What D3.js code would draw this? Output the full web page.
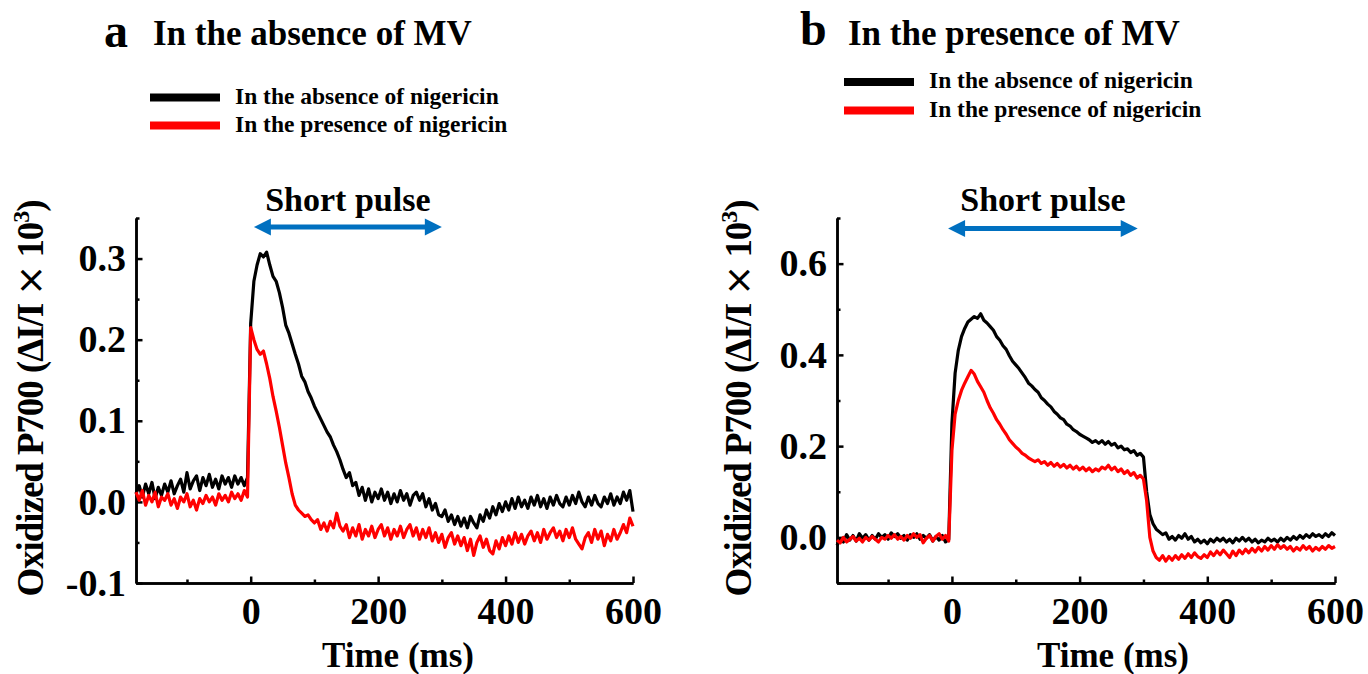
<!DOCTYPE html>
<html>
<head>
<meta charset="utf-8">
<title>Oxidized P700</title>
<script src="https://d3js.org/d3.v7.min.js"></script>
<style>
  body { margin: 0; background: #fff; }
  svg text { font-family: "Liberation Serif", "Times New Roman", serif; font-weight: bold; fill: #000; }
  .axis path, .axis line { stroke: #000; stroke-width: 2.5; }
  .trace { fill: none; stroke-width: 3.2; stroke-linejoin: round; }
</style>
</head>
<body>
<svg id="chart" width="1368" height="674"></svg>
<script>
// sampling grid of the traces (ms)
var times = d3.range(-180, 601, 5);

// panel a, no MV
var aBlack = [
  0.010, 0.020, 0.006, 0.022, 0.010, 0.024, 0.004, 0.018, 0.008, 0.022,
  0.012, 0.026, 0.010, 0.020, 0.028, 0.012, 0.036, 0.016, 0.026, 0.032,
  0.014, 0.030, 0.020, 0.034, 0.018, 0.028, 0.016, 0.032, 0.022, 0.030,
  0.018, 0.032, 0.022, 0.030, 0.020, 0.030,
  0.220, 0.272, 0.292, 0.306, 0.302, 0.308, 0.292, 0.278, 0.272, 0.258,
  0.240, 0.218, 0.208, 0.195, 0.182, 0.170, 0.155, 0.148, 0.136, 0.128,
  0.118, 0.110, 0.102, 0.094, 0.086, 0.080, 0.070, 0.062, 0.052, 0.040,
  0.030, 0.036, 0.020, 0.024, 0.008, 0.018, 0.002, 0.016, 0.000, 0.012,
  0.004, 0.016, 0.002, 0.012, -0.002, 0.010, 0.000, 0.014, 0.002, 0.010,
  -0.004, 0.008, 0.012, 0.002, 0.010, -0.006, 0.004, -0.010, -0.002, -0.016,
  -0.018, -0.010, -0.024, -0.016, -0.028, -0.018, -0.030, -0.020, -0.032, -0.018,
  -0.026, -0.032, -0.016, -0.024, -0.010, -0.020, -0.006, -0.016, -0.002, -0.012,
  0.000, -0.010, 0.004, -0.008, 0.006, -0.006, 0.002, -0.008, 0.006, -0.004,
  0.008, -0.006, 0.004, -0.008, 0.006, -0.004, 0.008, -0.002, -0.006, 0.006,
  -0.004, 0.008, -0.002, 0.012, 0.000, -0.006, 0.006, -0.004, 0.008, -0.002,
  -0.006, 0.006, -0.002, 0.010, -0.004, 0.006, -0.002, 0.012, 0.002, 0.014,
  -0.012
];
var aRed = [
  0.012, 0.002, 0.014, -0.004, 0.008, 0.000, 0.012, -0.006, 0.006, 0.002,
  0.010, -0.004, 0.004, -0.008, 0.006, 0.000, 0.010, -0.006, 0.002, -0.010,
  0.004, -0.002, 0.008, 0.000, 0.006, -0.004, 0.010, 0.002, 0.008, 0.000,
  0.012, 0.004, 0.010, 0.002, 0.014, 0.006,
  0.215, 0.200, 0.188, 0.182, 0.186, 0.170, 0.152, 0.130, 0.112, 0.092,
  0.070, 0.048, 0.030, 0.010, -0.004, -0.010, -0.014, -0.018, -0.016, -0.022,
  -0.026, -0.022, -0.034, -0.026, -0.036, -0.024, -0.032, -0.014, -0.030, -0.036,
  -0.028, -0.044, -0.032, -0.042, -0.028, -0.046, -0.034, -0.042, -0.030, -0.044,
  -0.034, -0.028, -0.042, -0.032, -0.046, -0.034, -0.042, -0.030, -0.044, -0.034,
  -0.028, -0.042, -0.032, -0.046, -0.034, -0.044, -0.032, -0.048, -0.038, -0.050,
  -0.040, -0.056, -0.044, -0.038, -0.052, -0.042, -0.054, -0.044, -0.060, -0.046,
  -0.066, -0.050, -0.042, -0.056, -0.046, -0.060, -0.064, -0.048, -0.058, -0.044,
  -0.054, -0.042, -0.052, -0.038, -0.050, -0.040, -0.052, -0.042, -0.036, -0.048,
  -0.038, -0.050, -0.034, -0.046, -0.038, -0.032, -0.044, -0.036, -0.048, -0.034,
  -0.044, -0.032, -0.046, -0.052, -0.058, -0.044, -0.038, -0.050, -0.034, -0.046,
  -0.036, -0.054, -0.040, -0.048, -0.034, -0.046, -0.038, -0.028, -0.038, -0.020,
  -0.030
];

// panel b, with MV
var bBlack = [
  -0.018, -0.004, -0.010, 0.006, -0.006, 0.004, -0.008, 0.008, -0.002, 0.006,
  -0.006, 0.004, -0.004, 0.008, 0.000, 0.006, -0.004, 0.010, 0.002, 0.008,
  -0.002, 0.004, -0.006, 0.006, 0.000, 0.008, -0.004, 0.004, -0.002, 0.006,
  -0.008, 0.002, -0.006, 0.004, -0.010, -0.004,
  0.250, 0.360, 0.410, 0.440, 0.458, 0.472, 0.478, 0.484, 0.480, 0.490,
  0.476, 0.470, 0.462, 0.454, 0.440, 0.432, 0.420, 0.412, 0.398, 0.386,
  0.378, 0.370, 0.360, 0.350, 0.338, 0.332, 0.324, 0.318, 0.306, 0.300,
  0.292, 0.286, 0.276, 0.270, 0.262, 0.258, 0.248, 0.244, 0.236, 0.232,
  0.226, 0.222, 0.218, 0.214, 0.208, 0.212, 0.206, 0.212, 0.204, 0.210,
  0.202, 0.206, 0.196, 0.200, 0.192, 0.194, 0.186, 0.190, 0.180, 0.184,
  0.176, 0.100, 0.050, 0.030, 0.018, 0.012, 0.006, 0.010, -0.004, 0.002,
  -0.006, 0.004, -0.002, 0.008, -0.004, 0.002, -0.010, -0.004, -0.012, -0.006,
  -0.014, -0.004, -0.010, -0.002, -0.008, -0.002, -0.010, -0.004, -0.012, -0.002,
  -0.008, 0.000, -0.008, -0.002, -0.010, -0.004, -0.012, -0.006, -0.010, -0.002,
  -0.008, -0.004, -0.010, -0.002, -0.008, 0.000, -0.006, 0.002, -0.004, 0.004,
  -0.002, 0.006, 0.000, 0.008, 0.002, 0.006, 0.000, 0.008, 0.002, 0.010,
  0.004
];
var bRed = [
  -0.006, -0.012, 0.000, -0.010, -0.004, 0.002, -0.008, -0.002, -0.010, 0.000,
  -0.006, 0.002, -0.004, -0.010, 0.000, -0.004, 0.004, -0.002, 0.006, -0.004,
  0.002, -0.006, 0.004, -0.002, 0.008, 0.000, 0.006, -0.012, -0.002, 0.004,
  -0.008, 0.002, 0.008, -0.004, 0.004, -0.008,
  0.190, 0.270, 0.300, 0.322, 0.338, 0.352, 0.366, 0.358, 0.342, 0.330,
  0.318, 0.300, 0.284, 0.272, 0.258, 0.248, 0.236, 0.226, 0.214, 0.206,
  0.198, 0.192, 0.184, 0.180, 0.174, 0.170, 0.166, 0.170, 0.162, 0.166,
  0.158, 0.164, 0.156, 0.162, 0.154, 0.160, 0.152, 0.158, 0.150, 0.156,
  0.148, 0.154, 0.146, 0.152, 0.144, 0.150, 0.146, 0.154, 0.150, 0.158,
  0.148, 0.154, 0.144, 0.150, 0.140, 0.146, 0.136, 0.142, 0.130, 0.136,
  0.128, 0.080, 0.000, -0.030, -0.044, -0.050, -0.040, -0.052, -0.042, -0.050,
  -0.040, -0.048, -0.038, -0.046, -0.036, -0.044, -0.034, -0.042, -0.046, -0.038,
  -0.044, -0.032, -0.040, -0.030, -0.038, -0.028, -0.036, -0.044, -0.030, -0.040,
  -0.028, -0.036, -0.026, -0.034, -0.024, -0.032, -0.022, -0.030, -0.020, -0.028,
  -0.018, -0.026, -0.016, -0.024, -0.018, -0.026, -0.020, -0.030, -0.022, -0.028,
  -0.018, -0.026, -0.020, -0.030, -0.022, -0.028, -0.020, -0.026, -0.018, -0.024,
  -0.020
];

var xMajor = [0, 200, 400, 600];
var xMinor = [-100, 100, 300, 500];
var legendLabels = ["In the absence of nigericin", "In the presence of nigericin"];
var colors = ["#000000", "#ff0000"];

var panels = [
  { letter: "a", title: "In the absence of MV", black: aBlack, red: aRed,
    yDomain: [-0.1, 0.35], yMajor: [-0.1, 0, 0.1, 0.2, 0.3], yMinor: [-0.05, 0.05, 0.15, 0.25, 0.35],
    pulse: [5, 300],
    x0: 136, x1: 633, letterX: 104, letterY: 47, titleX: 153, titleY: 45,
    legX: 150, legY: 97.5, legGap: 28, legTextX: 235,
    arrowY: 227, ylabX: 43, xlabX: 398 },
  { letter: "b", title: "In the presence of MV", black: bBlack, red: bRed,
    yDomain: [-0.1, 0.7], yMajor: [0, 0.2, 0.4, 0.6], yMinor: [-0.1, 0.1, 0.3, 0.5, 0.7],
    pulse: [-6, 291],
    x0: 837, x1: 1335, letterX: 800, letterY: 45, titleX: 848, titleY: 45,
    legX: 844, legY: 82, legGap: 28.5, legTextX: 929,
    arrowY: 228.5, ylabX: 751, xlabX: 1113 }
];

var svg = d3.select("#chart");
var yTop = 218, yBot = 583;

panels.forEach(function (p) {
  var x = d3.scaleLinear().domain([-180, 600]).range([p.x0, p.x1]);
  var y = d3.scaleLinear().domain(p.yDomain).range([yBot, yTop]);
  var g = svg.append("g");

  // header
  g.append("text").attr("x", p.letterX).attr("y", p.letterY)
    .style("font-size", "48px").text(p.letter);
  g.append("text").attr("x", p.titleX).attr("y", p.titleY)
    .style("font-size", "35px").text(p.title);

  // legend
  legendLabels.forEach(function (lab, i) {
    var ly = p.legY + i * p.legGap;
    g.append("line").attr("x1", p.legX).attr("x2", p.legX + 70)
      .attr("y1", ly).attr("y2", ly)
      .attr("stroke", colors[i]).attr("stroke-width", 8);
    g.append("text").attr("x", p.legTextX).attr("y", ly + 6)
      .style("font-size", "23.5px").text(lab);
  });

  // minor ticks
  g.append("g").attr("class", "axis").attr("transform", "translate(0," + yBot + ")")
    .call(d3.axisBottom(x).tickValues(xMinor).tickSizeInner(-3.5).tickSizeOuter(0).tickFormat(""));
  g.append("g").attr("class", "axis").attr("transform", "translate(" + p.x0 + ",0)")
    .call(d3.axisLeft(y).tickValues(p.yMinor).tickSizeInner(-3.5).tickSizeOuter(0).tickFormat(""));

  // major ticks + labels
  var xa = g.append("g").attr("class", "axis").attr("transform", "translate(0," + yBot + ")")
    .call(d3.axisBottom(x).tickValues(xMajor).tickSizeInner(-6.5).tickSizeOuter(0).tickPadding(14));
  xa.selectAll("text").style("font-size", "38px");
  var ya = g.append("g").attr("class", "axis").attr("transform", "translate(" + p.x0 + ",0)")
    .call(d3.axisLeft(y).tickValues(p.yMajor).tickSizeInner(-6.5).tickSizeOuter(0).tickPadding(10)
      .tickFormat(function (v) { return v.toFixed(1); }));
  ya.selectAll("text").style("font-size", "38px");

  // traces, black under red
  var line = d3.line().x(function (d) { return x(d[0]); }).y(function (d) { return y(d[1]); });
  [p.black, p.red].forEach(function (vals, i) {
    g.append("path").attr("class", "trace")
      .attr("stroke", colors[i])
      .attr("d", line(vals.map(function (v, k) { return [times[k], v]; })));
  });

  // pulse arrow
  var ax0 = x(p.pulse[0]), ax1 = x(p.pulse[1]), ay = p.arrowY, hl = 17, hh = 8.5;
  g.append("line").attr("x1", ax0 + hl - 2).attr("x2", ax1 - hl + 2)
    .attr("y1", ay).attr("y2", ay).attr("stroke", "#0070c0").attr("stroke-width", 5);
  g.append("path").attr("fill", "#0070c0")
    .attr("d", "M" + ax0 + "," + ay + "L" + (ax0 + hl) + "," + (ay - hh) + "L" + (ax0 + hl) + "," + (ay + hh) + "Z" +
               "M" + ax1 + "," + ay + "L" + (ax1 - hl) + "," + (ay - hh) + "L" + (ax1 - hl) + "," + (ay + hh) + "Z");
  g.append("text").attr("x", (ax0 + ax1) / 2).attr("y", 211)
    .attr("text-anchor", "middle").style("font-size", "34px").text("Short pulse");

  // axis titles
  g.append("text").attr("x", p.xlabX).attr("y", 667)
    .attr("text-anchor", "middle").style("font-size", "35px").text("Time (ms)");
  var yl = g.append("text")
    .attr("transform", "translate(" + p.ylabX + ",398) rotate(-90)")
    .attr("text-anchor", "middle").style("font-size", "37px")
    .attr("textLength", 397).attr("lengthAdjust", "spacing");
  yl.append("tspan").text("Oxidized P700 (\u0394I/I ");
  yl.append("tspan").style("font-weight", "normal").style("font-family", "'DejaVu Sans', sans-serif").text("\u00d7");
  yl.append("tspan").text(" 10");
  yl.append("tspan").attr("dy", -14).style("font-size", "24px").text("3");
  yl.append("tspan").attr("dy", 14).text(")");
});
</script>
</body>
</html>
